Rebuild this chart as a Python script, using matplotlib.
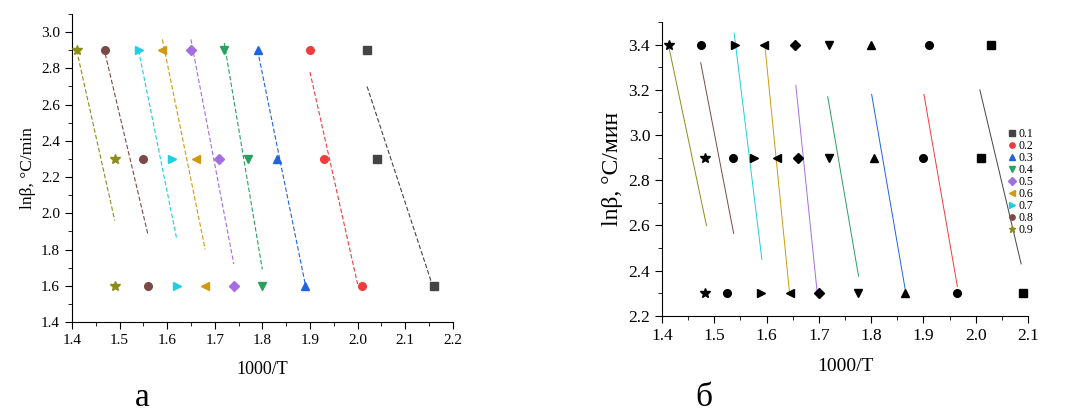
import matplotlib
matplotlib.use("Agg")
import matplotlib.pyplot as plt
from matplotlib.ticker import MultipleLocator, AutoMinorLocator

plt.rcParams['font.family'] = ['Liberation Serif', 'DejaVu Serif']

# series labels (same for both panels)
labels = ['0.1', '0.2', '0.3', '0.4', '0.5', '0.6', '0.7', '0.8', '0.9']
markers = ['s', 'o', '^', 'v', 'D', '<', '>', 'o', '*']
colors = ['#444444', '#f03c3c', '#1f63e0', '#2aa060', '#a56ee0',
          '#d09a10', '#20cfe0', '#7a4a48', '#8c8c1c']

# panel a: ln(beta) levels and 1000/T values for each series
yA = [2.9, 2.3, 1.6]
xA = [
    [2.02, 2.04, 2.16],
    [1.90, 1.93, 2.01],
    [1.79, 1.83, 1.89],
    [1.72, 1.77, 1.80],
    [1.65, 1.71, 1.74],
    [1.59, 1.66, 1.68],
    [1.54, 1.61, 1.62],
    [1.47, 1.55, 1.56],
    [1.41, 1.49, 1.49],
]
# fitted lines of panel a (x start, x end, y start, y end)
fitA_x0 = [2.02, 1.90, 1.79, 1.72, 1.65, 1.59, 1.54, 1.47, 1.41]
fitA_x1 = [2.16, 2.00, 1.89, 1.80, 1.74, 1.68, 1.62, 1.56, 1.49]
fitA_y0 = [2.70, 2.78, 2.90, 2.94, 2.96, 2.96, 2.90, 2.88, 2.90]
fitA_y1 = [1.58, 1.61, 1.61, 1.69, 1.72, 1.80, 1.86, 1.88, 1.96]

# panel b
yB = [3.4, 2.9, 2.3]
xB = [
    [2.03, 2.01, 2.09],
    [1.91, 1.90, 1.965],
    [1.80, 1.805, 1.865],
    [1.72, 1.72, 1.775],
    [1.655, 1.66, 1.70],
    [1.595, 1.62, 1.645],
    [1.54, 1.575, 1.59],
    [1.475, 1.535, 1.525],
    [1.413, 1.483, 1.483],
]
fitB_x0 = [2.008, 1.901, 1.801, 1.717, 1.656, 1.597, 1.538, 1.474, 1.413]
fitB_x1 = [2.087, 1.965, 1.865, 1.776, 1.697, 1.644, 1.591, 1.537, 1.485]
fitB_y0 = [3.20, 3.18, 3.18, 3.17, 3.22, 3.39, 3.45, 3.32, 3.39]
fitB_y1 = [2.43, 2.33, 2.32, 2.375, 2.30, 2.30, 2.45, 2.565, 2.60]

fig = plt.figure(figsize=(10.73, 4.19), dpi=100)

def style_axes(ax, size):
    ax.spines['top'].set_visible(False)
    ax.spines['right'].set_visible(False)
    ax.xaxis.set_minor_locator(AutoMinorLocator(2))
    ax.yaxis.set_minor_locator(AutoMinorLocator(2))
    ax.tick_params(which='major', direction='out', length=5, labelsize=size)
    ax.tick_params(which='minor', direction='out', length=3)

def msize(m):
    if m == '*':
        return 7
    if m == 'D':
        return 5.2
    return 5.5

# ---- panel a
ax1 = fig.add_axes([0.067, 0.2315, 0.355, 0.735])
for i in range(len(labels)):
    ax1.plot([fitA_x0[i], fitA_x1[i]], [fitA_y0[i], fitA_y1[i]],
             linestyle=(0, (4, 2)), linewidth=0.8, color=colors[i])
    ax1.plot(xA[i], yA, linestyle='none', marker=markers[i],
             markersize=msize(markers[i]), color=colors[i], label=labels[i],
             clip_on=False, zorder=3)
ax1.set_xlim(1.4, 2.2)
ax1.set_ylim(1.4, 3.1)
ax1.xaxis.set_major_locator(MultipleLocator(0.1))
ax1.yaxis.set_major_locator(MultipleLocator(0.2))
style_axes(ax1, 11)
ax1.set_xlabel('1000/T', fontsize=13, labelpad=10)
ax1.set_ylabel('lnβ, °C/min', fontsize=12.5)

# ---- panel b
ax2 = fig.add_axes([0.617, 0.246, 0.341, 0.7015])
for i in range(len(labels)):
    ax2.plot([fitB_x0[i], fitB_x1[i]], [fitB_y0[i], fitB_y1[i]],
             linewidth=0.7, color=colors[i])
    ax2.plot(xB[i], yB, linestyle='none', marker=markers[i],
             markersize=msize(markers[i]), color='black',
             clip_on=False, zorder=3)
ax2.set_xlim(1.4, 2.1)
ax2.set_ylim(2.2, 3.5)
ax2.xaxis.set_major_locator(MultipleLocator(0.1))
ax2.set_yticks([2.2, 2.4, 2.6, 2.8, 3.0, 3.2, 3.4])
style_axes(ax2, 12.5)
ax2.set_xlabel('1000/T', fontsize=14, labelpad=10)
ax2.set_ylabel('lnβ, °C/мин', fontsize=17)

# legend (colored markers) to the right of panel b
handles, labs = ax1.get_legend_handles_labels()
fig.legend(handles, labs, loc='upper left', bbox_to_anchor=(0.932, 0.715),
           frameon=False, fontsize=8.5, handlelength=0.6, handletextpad=0.3,
           labelspacing=0.0, markerscale=0.7, borderpad=0.2)

fig.text(0.126, 0.03, 'а', fontsize=24)
fig.text(0.648, 0.03, 'б', fontsize=24)

fig.savefig('out.png', dpi=100)
